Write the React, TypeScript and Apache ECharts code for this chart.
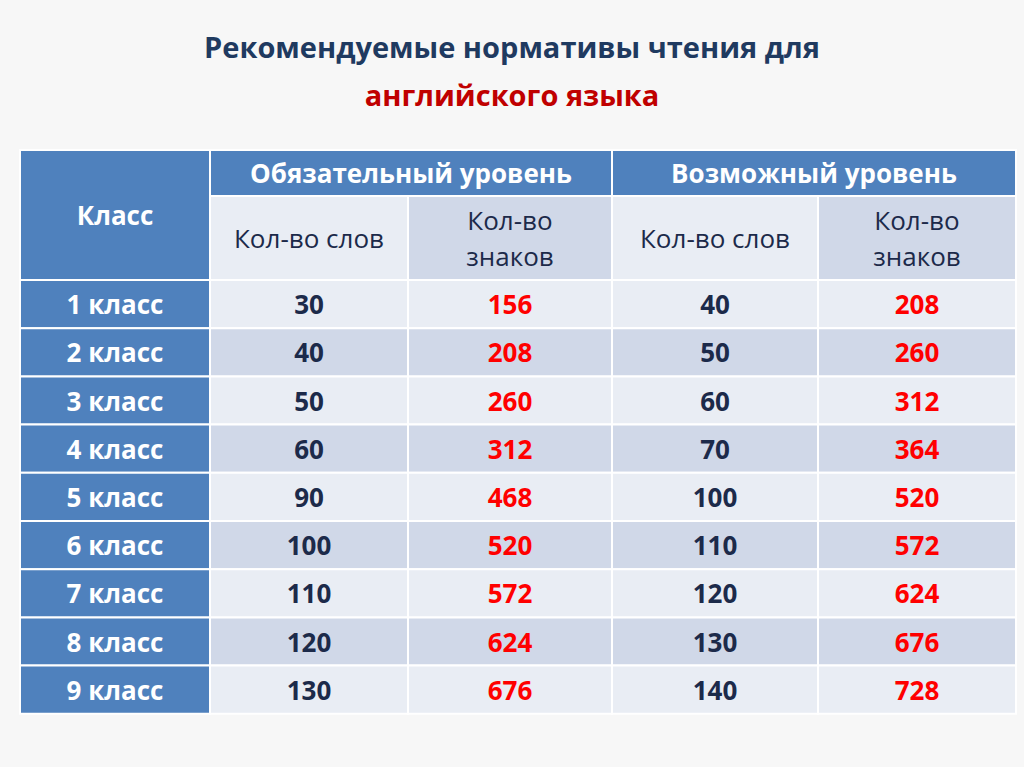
import React, { useEffect, useRef } from "react";
import * as echarts from "echarts";

const classes = ["1 класс", "2 класс", "3 класс", "4 класс", "5 класс", "6 класс", "7 класс", "8 класс", "9 класс"];
const reqWords = [30, 40, 50, 60, 90, 100, 110, 120, 130];
const reqChars = [156, 208, 260, 312, 468, 520, 572, 624, 676];
const posWords = [40, 50, 60, 70, 100, 110, 120, 130, 140];
const posChars = [208, 260, 312, 364, 520, 572, 624, 676, 728];
const groupHeaders = ["Обязательный уровень", "Возможный уровень"];
const subHeaders = ["Кол-во слов", "Кол-во\nзнаков", "Кол-во слов", "Кол-во\nзнаков"];

const colX = [20, 210, 408, 612, 818, 1016];
const headTop = 150, subTop = 196, dataTop = 280, rowH = 48.2;
const BLUE = "#4f81bd", LIGHT = "#e9edf4", DARK = "#d0d8e8", NAVY = "#1c2a4a", RED = "#ff0000";
const FONT = "'Open Sans', 'Noto Sans', sans-serif";

type Cell = { x0: number; x1: number; y0: number; y1: number; text: string; fill: string; color: string; bold: boolean; size: number };

function buildCells(): Cell[] {
  const cells: Cell[] = [];
  cells.push({ x0: colX[0], x1: colX[1], y0: headTop, y1: dataTop, text: "Класс", fill: BLUE, color: "#fff", bold: true, size: 26 });
  groupHeaders.forEach((g, i) =>
    cells.push({ x0: colX[1 + i * 2], x1: colX[3 + i * 2], y0: headTop, y1: subTop, text: g, fill: BLUE, color: "#fff", bold: true, size: 26 })
  );
  subHeaders.forEach((s, i) =>
    cells.push({ x0: colX[1 + i], x1: colX[2 + i], y0: subTop, y1: dataTop, text: s, fill: i % 2 === 0 ? LIGHT : DARK, color: NAVY, bold: false, size: 26 })
  );
  classes.forEach((c, r) => {
    const y0 = dataTop + r * rowH, y1 = y0 + rowH;
    const fill = r % 2 === 0 ? LIGHT : DARK;
    cells.push({ x0: colX[0], x1: colX[1], y0, y1, text: c, fill: BLUE, color: "#fff", bold: true, size: 26 });
    const vals = [reqWords[r], reqChars[r], posWords[r], posChars[r]];
    vals.forEach((v, i) =>
      cells.push({ x0: colX[1 + i], x1: colX[2 + i], y0, y1, text: String(v), fill, color: i % 2 === 1 ? RED : NAVY, bold: true, size: 26 })
    );
  });
  return cells;
}

export default function App() {
  const ref = useRef<HTMLDivElement>(null);
  useEffect(() => {
    document.body.style.margin = "0";
    const chart = echarts.init(ref.current!, null, { renderer: "svg" });
    const cells = buildCells();
    chart.setOption({
      animation: false,
      backgroundColor: "#f7f7f7",
      grid: { left: 0, top: 0, width: 1024, height: 767 },
      xAxis: { type: "value", min: 0, max: 1024, show: false },
      yAxis: { type: "value", min: 0, max: 767, inverse: true, show: false },
      graphic: [
        { type: "text", left: "center", top: 32, style: { text: "Рекомендуемые нормативы чтения для", fill: "#1f3a60", font: `bold 29px ${FONT}` } },
        { type: "text", left: "center", top: 80, style: { text: "английского языка", fill: "#c00000", font: `bold 29px ${FONT}` } },
      ],
      series: [
        {
          type: "custom",
          data: cells.map((c, i) => [c.x0, c.y0, c.x1, c.y1, i]),
          renderItem: (params: any, api: any) => {
            const c = cells[api.value(4)];
            const p0 = api.coord([api.value(0), api.value(1)]);
            const p1 = api.coord([api.value(2), api.value(3)]);
            return {
              type: "group",
              children: [
                { type: "rect", shape: { x: p0[0], y: p0[1], width: p1[0] - p0[0], height: p1[1] - p0[1] }, style: { fill: c.fill, stroke: "#fff", lineWidth: 2 } },
                {
                  type: "text",
                  style: {
                    text: c.text, x: (p0[0] + p1[0]) / 2, y: (p0[1] + p1[1]) / 2, align: "center", verticalAlign: "middle",
                    fill: c.color, fontSize: c.size, fontWeight: c.bold ? "bold" : "normal", fontFamily: FONT, lineHeight: 36,
                  },
                },
              ],
            };
          },
        },
      ],
    });
    return () => chart.dispose();
  }, []);
  return <div ref={ref} style={{ width: 1024, height: 767 }} />;
}
